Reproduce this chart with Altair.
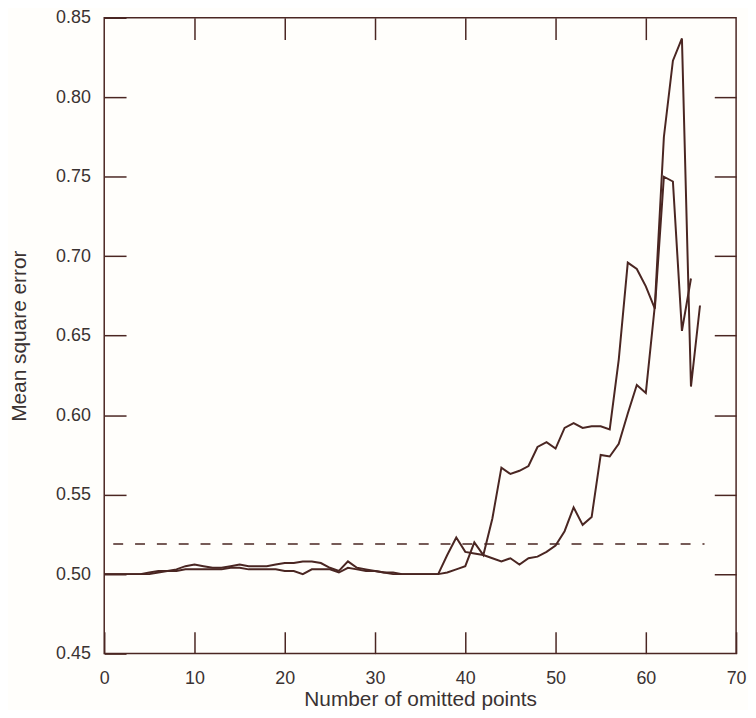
import altair as alt
import pandas as pd

# ---- data ----
x_a = list(range(0, 67))
mse_a = [0.500, 0.500, 0.500, 0.500, 0.500, 0.501, 0.502, 0.502, 0.503, 0.505,
         0.506, 0.505, 0.504, 0.504, 0.505, 0.506, 0.505, 0.505, 0.505, 0.506,
         0.507, 0.507, 0.508, 0.508, 0.507, 0.504, 0.502, 0.508, 0.504, 0.503,
         0.502, 0.501, 0.501, 0.500, 0.500, 0.500, 0.500, 0.500,
         0.512, 0.523, 0.514, 0.513, 0.512, 0.510, 0.508, 0.510, 0.506, 0.510,
         0.511, 0.514, 0.518, 0.527, 0.542, 0.531, 0.536, 0.575, 0.574, 0.582,
         0.601, 0.619, 0.614, 0.669, 0.775, 0.823, 0.837, 0.618, 0.669]

x_b = list(range(0, 66))
mse_b = [0.500, 0.500, 0.500, 0.500, 0.500, 0.500, 0.501, 0.502, 0.502, 0.503,
         0.503, 0.503, 0.503, 0.503, 0.504, 0.504, 0.503, 0.503, 0.503, 0.503,
         0.502, 0.502, 0.500, 0.503, 0.503, 0.503, 0.501, 0.504, 0.503, 0.502,
         0.502, 0.501, 0.500, 0.500, 0.500, 0.500, 0.500, 0.500,
         0.501, 0.503, 0.505, 0.520, 0.512, 0.535, 0.567, 0.563, 0.565, 0.568,
         0.580, 0.583, 0.579, 0.592, 0.595, 0.592, 0.593, 0.593, 0.591, 0.635,
         0.696, 0.692, 0.681, 0.667, 0.750, 0.747, 0.653, 0.686]

baseline_mse = 0.519
baseline_x = [1, 66.5]

x_ticks = [0, 10, 20, 30, 40, 50, 60, 70]
y_ticks = [0.45, 0.50, 0.55, 0.60, 0.65, 0.70, 0.75, 0.80, 0.85]

df = pd.DataFrame({
    "x": x_a + x_b,
    "mse": mse_a + mse_b,
    "run": ["A"] * len(x_a) + ["B"] * len(x_b),
})
dash_df = pd.DataFrame({"x": [baseline_x[0]], "x2": [baseline_x[1]], "y": [baseline_mse]})

LINE = "#4a2622"
TEXT = "#3a3232"
FONT = "Liberation Sans"
TICK = 22

xs = alt.Scale(domain=[0, 70], nice=False, zero=False)
ys = alt.Scale(domain=[0.45, 0.85], nice=False, zero=False)

common = dict(tickSize=TICK, offset=-TICK, domain=False, grid=False,
              tickColor=LINE, tickWidth=1.5, labelFont=FONT, labelFontSize=18,
              labelColor=TEXT, titleFont=FONT, titleColor=TEXT,
              titleFontWeight="normal", labelFlush=False)

lines = alt.Chart(df).mark_line(color=LINE, strokeWidth=2).encode(
    x=alt.X("x:Q", scale=xs,
            axis=alt.Axis(orient="bottom", values=x_ticks, title="Number of omitted points",
                          labelPadding=16, titleFontSize=21, titlePadding=1, **common)),
    y=alt.Y("mse:Q", scale=ys,
            axis=alt.Axis(orient="left", values=y_ticks, format=".2f", title="Mean square error",
                          labelPadding=14, titleFontSize=21, titlePadding=26, **common)),
    detail="run:N",
)

dashed = alt.Chart(dash_df).mark_rule(color=LINE, strokeWidth=1.6, strokeDash=[10, 12]).encode(
    x=alt.X("x:Q", scale=xs,
            axis=alt.Axis(orient="top", values=x_ticks[1:-1], labels=False, title=None, **common)),
    x2="x2",
    y=alt.Y("y:Q", scale=ys,
            axis=alt.Axis(orient="right", values=y_ticks[1:-1], labels=False, title=None, **common)),
)

chart = (
    alt.layer(lines, dashed)
    .resolve_axis(x="independent", y="independent")
    .properties(width=637, height=641,
                padding={"left": 97, "top": 7, "right": 12, "bottom": 54},
                autosize=alt.AutoSizeParams(type="none"),
                background="#fffefb")
    .configure_view(stroke=LINE, strokeWidth=1.5)
)

chart.save("out.html", embed_options={"renderer": "svg", "actions": False})
